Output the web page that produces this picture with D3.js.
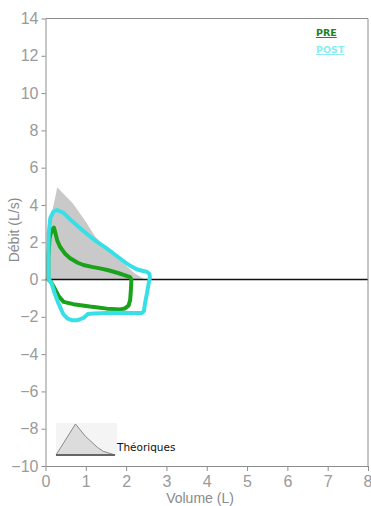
<!DOCTYPE html>
<html>
<head>
<meta charset="utf-8">
<script src="https://cdn.jsdelivr.net/npm/d3@7"></script>
<style>
  html, body { margin: 0; padding: 0; background: #fff; }
  svg { display: block; }
</style>
</head>
<body>
<svg id="chart" width="371" height="506"></svg>
<script>
// Axis ticks
const xTicks = [0, 1, 2, 3, 4, 5, 6, 7, 8];
const yTicks = [-10, -8, -6, -4, -2, 0, 2, 4, 6, 8, 10, 12, 14];

// Theoretical expiratory envelope (volume L, flow L/s)
const theoVolume = [0.03, 0.06, 0.15, 0.24, 0.29, 0.675, 1.0, 1.23, 1.6, 1.93, 2.2, 2.34, 2.46];
const theoFlow   = [0.0, 2.0, 3.5, 4.4, 4.95, 4.09, 3.1, 2.31, 1.5, 0.88, 0.35, 0.16, 0.0];

// PRE loop (volume L, flow L/s)
const preVolume = [0.07, 0.07, 0.1, 0.15, 0.21, 0.25, 0.29, 0.36, 0.48, 0.61, 0.8, 0.94, 1.15, 1.35, 1.56, 1.8, 2.01, 2.1, 2.13,
                   2.12, 2.1, 2.06, 1.97, 1.85, 1.52, 1.3, 1.1, 0.69, 0.45, 0.33, 0.22, 0.13, 0.07];
const preFlow   = [0.0, 1.2, 2.2, 2.65, 2.78, 2.45, 2.1, 1.76, 1.4, 1.14, 0.9, 0.78, 0.68, 0.6, 0.5, 0.35, 0.2, 0.13, 0.0,
                   -0.5, -1.1, -1.4, -1.55, -1.6, -1.56, -1.5, -1.45, -1.32, -1.2, -0.9, -0.45, -0.1, 0.0];

// POST loop (volume L, flow L/s)
const postVolume = [0.08, 0.07, 0.08, 0.12, 0.2, 0.28, 0.44, 0.6, 0.86, 1.05, 1.27, 1.5, 1.68, 1.85, 2.01, 2.15, 2.26, 2.4, 2.51, 2.58, 2.59,
                    2.56, 2.52, 2.47, 2.44, 2.38, 2.1, 1.68, 1.2, 1.05, 0.95, 0.8, 0.65, 0.55, 0.44, 0.32, 0.22, 0.15, 0.08];
const postFlow   = [0.0, 1.0, 2.5, 3.3, 3.65, 3.73, 3.59, 3.25, 2.75, 2.4, 2.03, 1.7, 1.41, 1.13, 0.87, 0.68, 0.55, 0.47, 0.42, 0.3, 0.1,
                    -0.2, -0.7, -1.27, -1.7, -1.8, -1.8, -1.78, -1.82, -1.85, -2.05, -2.18, -2.18, -2.1, -1.85, -1.27, -0.7, -0.2, 0.0];

// Legend icon outline for the theoretical curve (relative units 0..1)
const iconX = [0, 0.33, 0.5, 0.7, 0.8, 1.0, 0];
const iconY = [0, 1, 0.6, 0.25, 0.12, 0, 0];

const seriesNames = ["PRE", "POST"];
const theoLabel = "Théoriques";
const xTitle = "Volume (L)";
const yTitle = "Débit (L/s)";

const svg = d3.select("#chart");
const x = d3.scaleLinear().domain([0, 8]).range([45.5, 368]);
const y = d3.scaleLinear().domain([-10, 14]).range([466, 18.5]);

const axisColor = "#8c8c8c";
const tickText = "#9a9a9a";

const zip = (xs, ys) => xs.map((v, i) => [v, ys[i]]);
const line = d3.line().x(d => x(d[0])).y(d => y(d[1]));

// Theoretical area
svg.append("path")
  .attr("d", line(zip(theoVolume, theoFlow)) + "Z")
  .attr("fill", "#c9c9c9")
  .attr("stroke", "none");

// Zero flow line
svg.append("line")
  .attr("x1", x(0)).attr("x2", x(8))
  .attr("y1", y(0)).attr("y2", y(0))
  .attr("stroke", "#111").attr("stroke-width", 1.5);

// Loops: PRE underneath, POST on top
svg.append("path")
  .attr("d", line(zip(preVolume, preFlow)))
  .attr("fill", "none").attr("stroke", "#1aa31a")
  .attr("stroke-width", 4).attr("stroke-linejoin", "round").attr("stroke-linecap", "round");

svg.append("path")
  .attr("d", line(zip(postVolume, postFlow)))
  .attr("fill", "none").attr("stroke", "#36e0e6")
  .attr("stroke-width", 4).attr("stroke-linejoin", "round").attr("stroke-linecap", "round");

// Frame: top and right borders
svg.append("line")
  .attr("x1", x(0)).attr("x2", x(8)).attr("y1", y(14)).attr("y2", y(14))
  .attr("stroke", axisColor).attr("stroke-width", 1);
svg.append("line")
  .attr("x1", x(8)).attr("x2", x(8)).attr("y1", y(14)).attr("y2", y(-10))
  .attr("stroke", axisColor).attr("stroke-width", 1);

// Y axis
const yAxis = svg.append("g")
  .attr("transform", `translate(${x(0)},0)`)
  .call(d3.axisLeft(y).tickValues(yTicks).tickSize(4).tickSizeOuter(0).tickPadding(3));
// X axis
const xAxis = svg.append("g")
  .attr("transform", `translate(0,${y(-10)})`)
  .call(d3.axisBottom(x).tickValues(xTicks).tickSize(5).tickSizeOuter(0).tickPadding(5));

[xAxis, yAxis].forEach(g => {
  g.select(".domain").attr("stroke", axisColor);
  g.selectAll(".tick line").attr("stroke", axisColor);
  g.selectAll(".tick text")
    .attr("fill", tickText)
    .attr("font-family", "Liberation Sans, Arial, sans-serif")
    .attr("font-size", 16);
});
// Keep the last volume label inside the window
xAxis.selectAll(".tick text").filter(d => d === 8)
  .attr("text-anchor", "end").attr("dx", 4);

// Axis titles
svg.append("text")
  .attr("x", 200).attr("y", 503)
  .attr("text-anchor", "middle")
  .attr("font-family", "Liberation Sans, Arial, sans-serif")
  .attr("font-size", 14).attr("fill", "#8a8a8a")
  .text(xTitle);

svg.append("text")
  .attr("transform", "translate(19,230) rotate(-90)")
  .attr("text-anchor", "middle")
  .attr("font-family", "Liberation Sans, Arial, sans-serif")
  .attr("font-size", 14).attr("fill", "#8a8a8a")
  .text(yTitle);

// Series legend
const legendColors = ["#1e7f1e", "#86eef0"];
seriesNames.forEach((name, i) => {
  svg.append("text")
    .attr("x", 316).attr("y", 36 + i * 17)
    .attr("font-family", "DejaVu Sans, Verdana, sans-serif")
    .attr("font-size", 9.5).attr("font-weight", "bold")
    .attr("text-decoration", "underline")
    .attr("fill", legendColors[i])
    .text(name);
});

// Theoretical legend icon
const ix = d3.scaleLinear().domain([0, 1]).range([56, 115]);
const iy = d3.scaleLinear().domain([0, 1]).range([455, 424]);
svg.append("rect")
  .attr("x", 56).attr("y", 423).attr("width", 61).attr("height", 33)
  .attr("fill", "#f4f4f4");
svg.append("path")
  .attr("d", d3.line().x(d => ix(d[0])).y(d => iy(d[1]))(zip(iconX, iconY)))
  .attr("fill", "#dcdcdc").attr("stroke", "#8a8a8a").attr("stroke-width", 1);
svg.append("line")
  .attr("x1", ix(0)).attr("x2", ix(1)).attr("y1", iy(0)).attr("y2", iy(0))
  .attr("stroke", "#666").attr("stroke-width", 2);
svg.append("text")
  .attr("x", 117).attr("y", 451)
  .attr("font-family", "DejaVu Sans, Verdana, sans-serif")
  .attr("font-size", 10.5).attr("fill", "#111")
  .text(theoLabel);
</script>
</body>
</html>
